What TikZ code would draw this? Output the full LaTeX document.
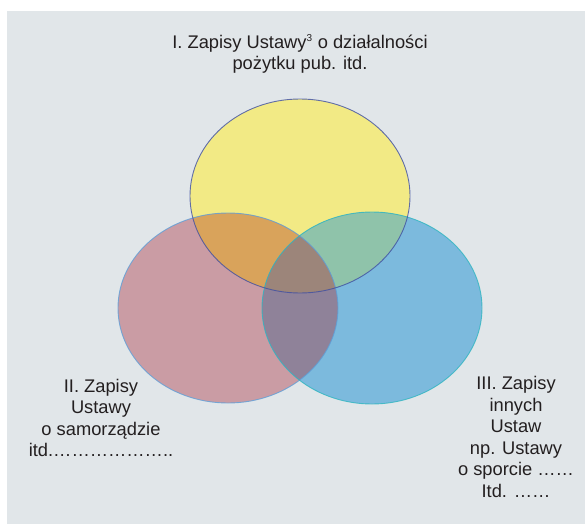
\documentclass[tikz,border=0pt]{standalone}
\usepackage{fontspec}
\setmainfont{Liberation Sans}

\definecolor{bgGray}{HTML}{E1E6E9}
\definecolor{yelFill}{HTML}{F2EA85}
\definecolor{redFill}{HTML}{CA9CA4}
\definecolor{bluFill}{HTML}{7CBADD}
\definecolor{yrFill}{HTML}{D9A35B}
\definecolor{ybFill}{HTML}{8FC3AA}
\definecolor{rbFill}{HTML}{8F8299}
\definecolor{yrbFill}{HTML}{9C857A}
\definecolor{yelLine}{HTML}{3F4FA3}
\definecolor{redLine}{HTML}{5E9FD8}
\definecolor{bluLine}{HTML}{2FB5C0}
\definecolor{txtGray}{HTML}{231F20}

\tikzset{
  label/.style={align=center, text=txtGray, font=\fontsize{18.3}{21.5}\selectfont, inner sep=0pt},
  rim/.style={line width=0.9pt}
}

\begin{document}
\begin{tikzpicture}[x=1pt, y=-1pt]

  \useasboundingbox (0,0) rectangle (585,524);
  \fill[bgGray] (7,11) rectangle (585,524);

  % centres of the three sets
  \coordinate (yel) at (300,196);
  \coordinate (red) at (228,308);
  \coordinate (blu) at (372,308);

  \def\yelpath{(yel) ellipse [x radius=110, y radius=97]}
  \def\redpath{(red) ellipse [x radius=110, y radius=95]}
  \def\blupath{(blu) ellipse [x radius=110, y radius=96]}

  \fill[yelFill] \yelpath;
  \fill[redFill] \redpath;
  \fill[bluFill] \blupath;

  % overlaps
  \begin{scope}
    \clip \yelpath;
    \fill[yrFill] \redpath;
    \fill[ybFill] \blupath;
  \end{scope}
  \begin{scope}
    \clip \redpath;
    \fill[rbFill] \blupath;
    \clip \yelpath;
    \fill[yrbFill] \blupath;
  \end{scope}

  \draw[rim, redLine, opacity=0.8] \redpath;
  \draw[rim, bluLine, opacity=0.8] \blupath;
  \draw[rim, yelLine, opacity=0.8] \yelpath;

  % labels
  \node[label] (lblI) at (300,54)
    {I. Zapisy Ustawy\textsuperscript{\fontsize{10}{10}\selectfont 3} o działalności\\pożytku pub. itd.};
  \node[label] (lblII) at (101,418)
    {II. Zapisy\\Ustawy\\o samorządzie\\itd.………………..};
  \node[label] (lblIII) at (516,437)
    {III. Zapisy\\innych\\Ustaw\\np. Ustawy\\o sporcie ……\\Itd. ……};

\end{tikzpicture}
\end{document}
